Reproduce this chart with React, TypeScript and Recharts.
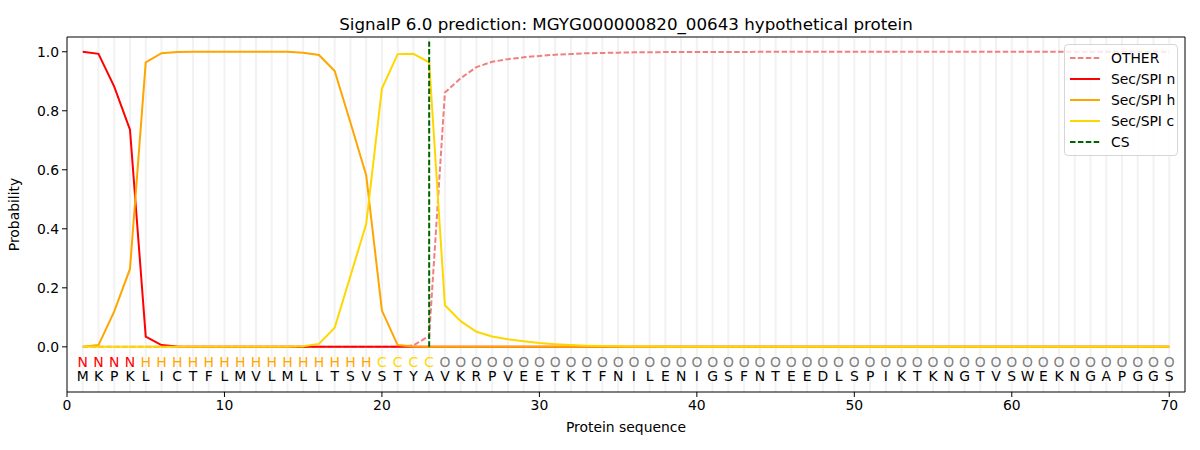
import React from 'react'
import {
  ComposedChart, Line, XAxis, YAxis, ReferenceLine, Scatter,
} from 'recharts'

document.body.style.margin = '0'

const FONT = 'DejaVu Sans'

const sequence = 'MKPKLICTFLMVLMLLTSVSTYAVKRPVEETKTFNILENIGSFNTEEDLSPIKTKNGTVSWEKNGAPGGS'.split('')
const regions = 'NNNNHHHHHHHHHHHHHHHCCCCOOOOOOOOOOOOOOOOOOOOOOOOOOOOOOOOOOOOOOOOOOOOOOO'.split('')

const other = [
  0, 0, 0, 0, 0, 0, 0, 0, 0, 0,
  0, 0, 0, 0, 0, 0, 0, 0, 0, 0,
  0, 0.005, 0.037, 0.862, 0.91, 0.948, 0.966, 0.975, 0.981, 0.986,
  0.99, 0.992, 0.995, 0.996, 0.997, 0.998, 0.998, 0.999, 0.999, 0.999,
  0.999, 0.999, 0.999, 1, 1, 1, 1, 1, 1, 1,
  1, 1, 1, 1, 1, 1, 1, 1, 1, 1,
  1, 1, 1, 1, 1, 1, 1, 1, 1, 1,
]
const secN = [
  1.0, 0.993, 0.882, 0.736, 0.035, 0.006, 0.001, 0, 0, 0,
  0, 0, 0, 0, 0, 0, 0, 0, 0, 0,
  0, 0, 0, 0, 0, 0, 0, 0, 0, 0,
  0, 0, 0, 0, 0, 0, 0, 0, 0, 0,
  0, 0, 0, 0, 0, 0, 0, 0, 0, 0,
  0, 0, 0, 0, 0, 0, 0, 0, 0, 0,
  0, 0, 0, 0, 0, 0, 0, 0, 0, 0,
]
const secH = [
  0, 0.006, 0.12, 0.264, 0.964, 0.995, 0.999, 1, 1, 1,
  1, 1, 1, 1, 0.997, 0.989, 0.935, 0.76, 0.582, 0.123,
  0.006, 0.001, 0, 0, 0, 0, 0, 0, 0, 0,
  0, 0, 0, 0, 0, 0, 0, 0, 0, 0,
  0, 0, 0, 0, 0, 0, 0, 0, 0, 0,
  0, 0, 0, 0, 0, 0, 0, 0, 0, 0,
  0, 0, 0, 0, 0, 0, 0, 0, 0, 0,
]
const secC = [
  0, 0, 0, 0, 0, 0, 0, 0, 0, 0,
  0, 0, 0, 0, 0.002, 0.01, 0.065, 0.24, 0.416, 0.875,
  0.992, 0.993, 0.964, 0.141, 0.087, 0.051, 0.035, 0.026, 0.019, 0.013,
  0.009, 0.006, 0.004, 0.003, 0.002, 0.001, 0.001, 0, 0, 0,
  0, 0, 0, 0, 0, 0, 0, 0, 0, 0,
  0, 0, 0, 0, 0, 0, 0, 0, 0, 0,
  0, 0, 0, 0, 0, 0, 0, 0, 0, 0,
]

const cleavageSite = 23
const xDomain = [0, 71]
const yDomain = [-0.153, 1.05]
const xTicks = [0, 10, 20, 30, 40, 50, 60, 70]
const yTicks = [0, 0.2, 0.4, 0.6, 0.8, 1.0]

const regionColor: Record<string, string> = {
  N: '#ff0000', H: '#ffa500', C: '#ffd700', O: '#808080',
}

const data = sequence.map((aa, i) => ({
  pos: i + 1,
  other: other[i],
  n: secN[i],
  h: secH[i],
  c: secC[i],
}))
const regionPts = regions.map((r, i) => ({ pos: i + 1, y: -0.05, label: r }))
const seqPts = sequence.map((aa, i) => ({ pos: i + 1, y: -0.1, label: aa }))

const legendItems = [
  { name: 'OTHER', color: '#f08080', dash: '5.5 2.4' },
  { name: 'Sec/SPI n', color: '#ff0000' },
  { name: 'Sec/SPI h', color: '#ffa500' },
  { name: 'Sec/SPI c', color: '#ffd700' },
  { name: 'CS', color: '#006400', dash: '5.5 2.4' },
]

const ChartLegend = () => (
  <div style={{
    position: 'absolute', left: 1064, top: 44, boxSizing: 'border-box', width: 114,
    background: 'rgba(255,255,255,0.8)', border: '1px solid #d6d6d6', borderRadius: 4,
    padding: '2px 0 3px 5px', fontSize: 13.9, color: '#000',
  }}>
    {legendItems.map(it => (
      <div key={it.name} style={{ display: 'flex', alignItems: 'center', height: 21 }}>
        <svg width={30} height={10} style={{ marginRight: 11 }}>
          <line x1={0} y1={5} x2={30} y2={5} stroke={it.color} strokeWidth={2} strokeDasharray={it.dash} />
        </svg>
        <span>{it.name}</span>
      </div>
    ))}
  </div>
)

const textShape = (color?: string) => (props: any) => (
  <text x={props.cx} y={props.cy} textAnchor="middle" dominantBaseline="central"
    fontFamily={FONT} fontSize={13.9} fill={color ?? regionColor[props.payload.label]}>
    {props.payload.label}
  </text>
)

const App = () => {
  return (
    <div style={{ position: 'relative', width: 1200, height: 450, fontFamily: FONT }}>
      <ComposedChart width={1200} height={450} data={data}
        margin={{ top: 37, right: 15, bottom: 28, left: 0 }}>
        {data.map(d => (
          <ReferenceLine key={d.pos} x={d.pos} stroke="#f2f2f2" strokeWidth={2} />
        ))}
        <ReferenceLine y={yDomain[1]} stroke="#000" strokeWidth={1} />
        <ReferenceLine x={xDomain[1]} stroke="#000" strokeWidth={1} />
        <XAxis dataKey="pos" type="number" domain={xDomain} ticks={xTicks} allowDataOverflow
          tickSize={5} tickMargin={3} stroke="#000"
          tick={{ fill: '#000', fontSize: 13.9, fontFamily: FONT }}
          label={{ value: 'Protein sequence', position: 'insideBottom', offset: -10, fill: '#000', fontSize: 13.9, fontFamily: FONT }} />
        <YAxis type="number" domain={yDomain} ticks={yTicks} allowDataOverflow width={67}
          tickSize={5} tickMargin={3} stroke="#000" tickFormatter={(v: number) => v.toFixed(1)}
          tick={{ fill: '#000', fontSize: 13.9, fontFamily: FONT }}
          label={{ value: 'Probability', angle: -90, position: 'insideLeft', offset: 14, fill: '#000', fontSize: 13.9, fontFamily: FONT, style: { textAnchor: 'middle' } }} />
        <Line dataKey="other" stroke="#f08080" strokeWidth={2} strokeDasharray="5.5 2.4" dot={false} isAnimationActive={false} />
        <Line dataKey="n" stroke="#ff0000" strokeWidth={2} dot={false} isAnimationActive={false} />
        <Line dataKey="h" stroke="#ffa500" strokeWidth={2} dot={false} isAnimationActive={false} />
        <Line dataKey="c" stroke="#ffd700" strokeWidth={2} dot={false} isAnimationActive={false} />
        <ReferenceLine segment={[{ x: cleavageSite, y: 0 }, { x: cleavageSite, y: 1.035 }]}
          stroke="#006400" strokeWidth={2} strokeDasharray="5.5 2.4" />
        <Scatter data={regionPts} dataKey="y" shape={textShape()} isAnimationActive={false} legendType="none" />
        <Scatter data={seqPts} dataKey="y" shape={textShape('#000')} isAnimationActive={false} legendType="none" />
      </ComposedChart>
      <div style={{
        position: 'absolute', top: 14, left: 67, width: 1118, textAlign: 'center',
        fontSize: 16.7, color: '#000',
      }}>
        SignalP 6.0 prediction: MGYG000000820_00643 hypothetical protein
      </div>
      <ChartLegend />
    </div>
  )
}

export default App
